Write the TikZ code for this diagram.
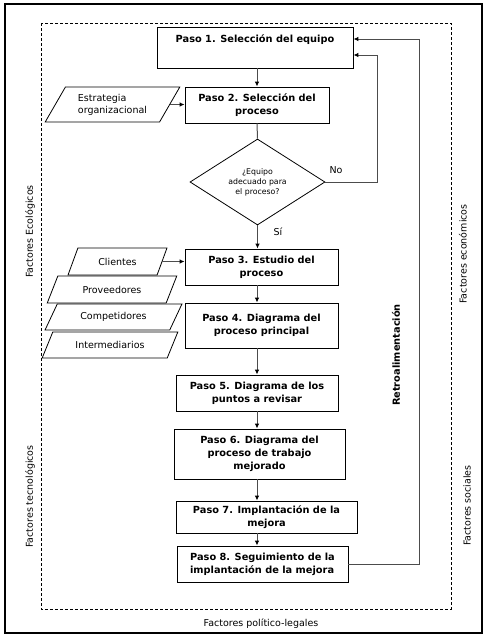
\documentclass[tikz,border=0pt]{standalone}
\usepackage{fontspec}
\setmainfont{DejaVu Sans}
\usetikzlibrary{arrows.meta,shapes.geometric}
\begin{document}
\begin{tikzpicture}[x=1pt,y=-1pt,
  stepbox/.style={draw=black, line width=0.8pt, rectangle, align=center, inner sep=2pt,
     font=\fontsize{9.8}{13}\selectfont\bfseries},
  inbox/.style={draw=black, line width=0.8pt, trapezium, trapezium left angle=55, trapezium right angle=125,
     trapezium stretches=true, inner sep=0pt, font=\fontsize{9.5}{12}\selectfont},
  conn/.style={draw=black!70, line width=1pt},
  arr/.style={conn, -{Latex[length=5pt,width=4.5pt,black]}},
  lbl/.style={font=\fontsize{9.5}{12}\selectfont},
  side/.style={lbl, rotate=90}
]
\useasboundingbox (0,0) rectangle (489,641);
% frames
\draw[line width=1.2pt] (5,4) rectangle (482,633);
\draw[line width=0.9pt, dash pattern=on 3pt off 2pt] (41,23) rectangle (451,609);

% steps
\node[stepbox, minimum width=196pt, minimum height=41pt, inner ysep=3pt, text height=12pt, text depth=23pt] (p1) at (255,47.5) {Paso 1. Selección del equipo};
\node[stepbox, minimum width=144pt, minimum height=36pt] (p2) at (257,105) {Paso 2. Selección del\\proceso};
\node[draw=black, line width=0.8pt, diamond, minimum width=135pt, minimum height=80pt, inner sep=0pt, align=center,
      font=\fontsize{7.8}{10}\selectfont] (dia) at (257.5,182) {¿Equipo\\adecuado para\\el proceso?};
\node[stepbox, minimum width=153pt, minimum height=36pt] (p3) at (261.5,267) {Paso 3. Estudio del\\proceso};
\node[stepbox, minimum width=153pt, minimum height=45pt] (p4) at (261.5,325.5) {Paso 4. Diagrama del\\proceso principal};
\node[stepbox, minimum width=162pt, minimum height=36pt] (p5) at (257,393) {Paso 5. Diagrama de los\\puntos a revisar};
\node[stepbox, minimum width=171pt, minimum height=50pt] (p6) at (259.5,454) {Paso 6. Diagrama del\\proceso de trabajo\\mejorado};
\node[stepbox, minimum width=181pt, minimum height=32pt] (p7) at (266.5,517) {Paso 7. Implantación de la\\mejora};
\node[stepbox, minimum width=171pt, minimum height=36pt, align=left] (p8) at (262.5,564) {Paso 8. Seguimiento de la\\implantación de la mejora};

% inputs
\node[inbox, minimum width=135pt, minimum height=35pt, align=left] (est) at (112.5,104.5) {Estrategia\\organizacional};
\node[inbox, minimum width=136pt, minimum height=26pt, trapezium left angle=49, trapezium right angle=131] (int) at (110,345) {Intermediarios};
\node[inbox, minimum width=137pt, minimum height=26pt, trapezium left angle=52, trapezium right angle=128] (com) at (113.5,317) {Competidores};
\node[inbox, minimum width=130pt, minimum height=27pt, trapezium left angle=52, trapezium right angle=128] (pro) at (112,289.5) {Proveedores};
\node[inbox, minimum width=99pt, minimum height=27pt, trapezium left angle=57, trapezium right angle=123] (cli) at (117.5,261.5) {Clientes};

% axis coordinate
\coordinate (ax) at (257,0);
\coordinate (nocorner) at (377,55);
\coordinate (fbk) at (419,39);

% connectors
\draw[arr] (ax |- p1.south) -- (ax |- p2.north);
\draw[conn] (ax |- p2.south) -- (dia.north);
\draw[arr] (dia.south) -- (dia.south |- p3.north);
\draw[arr] (ax |- p3.south) -- (ax |- p4.north);
\draw[arr] (ax |- p4.south) -- (ax |- p5.north);
\draw[arr] (ax |- p5.south) -- (ax |- p6.north);
\draw[arr] (ax |- p6.south) -- (ax |- p7.north);
\draw[arr] (ax |- p7.south) -- (ax |- p8.north);
\draw[arr] (dia.east) -| (nocorner) -- (nocorner -| p1.east);
\draw[arr] (p8.east) -| (fbk) -- (fbk -| p1.east);
\draw[arr] (est.east) -- (est.east -| p2.west);
\draw[arr] (cli.east) -- (cli.east -| p3.west);

% labels
\node[lbl] (no) at (336,170) {No};
\node[lbl] (si) at (278,232) {Sí};
\node[rotate=90, font=\fontsize{9.8}{12}\selectfont\bfseries] (retro) at (396,355) {Retroalimentación};
\node[side] (eco) at (30,231.5) {Factores Ecológicos};
\node[side] (tec) at (30,496.5) {Factores tecnológicos};
\node[side] (econ) at (463,254) {Factores económicos};
\node[side] (soc) at (467,505.5) {Factores sociales};
\node[lbl] (pol) at (261,624) {Factores político-legales};
\end{tikzpicture}
\end{document}
